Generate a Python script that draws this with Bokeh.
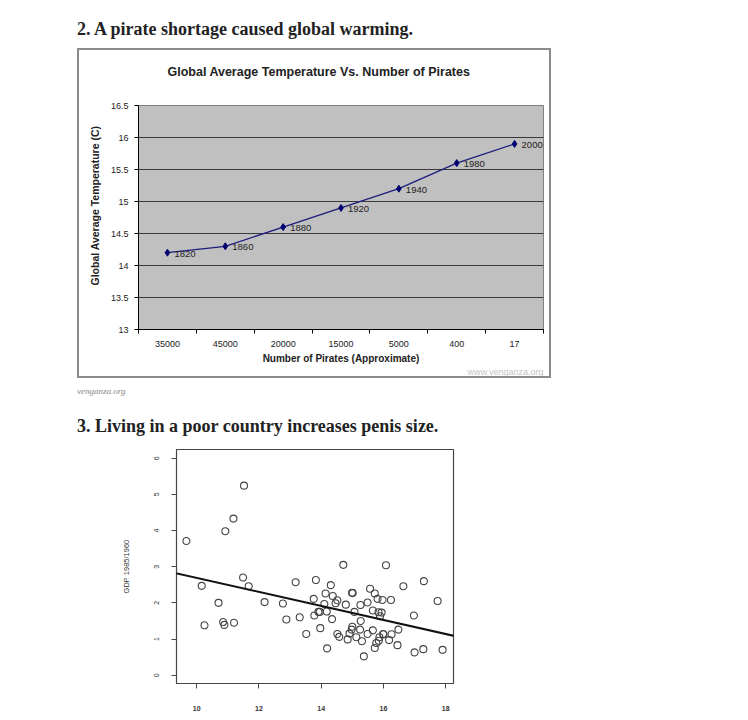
from bokeh.plotting import figure
from bokeh.models import Div, FixedTicker, Title, Slope, Range1d, ColumnDataSource
from bokeh.layouts import column
from bokeh.embed import file_html
from bokeh.resources import INLINE

# ---------------- data ----------------
HEADING_1 = "2. A pirate shortage caused global warming."
HEADING_2 = "3. Living in a poor country increases penis size."
CAPTION_1 = "venganza.org"
CHART1_TITLE = "Global Average Temperature Vs. Number of Pirates"
CHART1_XLABEL = "Number of Pirates (Approximate)"
CHART1_YLABEL = "Global Average Temperature  (C)"
WATERMARK = "www.venganza.org"

pirates = ["35000", "45000", "20000", "15000", "5000", "400", "17"]
temperature = [14.2, 14.3, 14.6, 14.9, 15.2, 15.6, 15.9]
years = ["1820", "1860", "1880", "1920", "1940", "1980", "2000"]
temp_ticks = [13, 13.5, 14, 14.5, 15, 15.5, 16, 16.5]

CHART2_YLABEL = "GDP 1985/1960"
size_x = [9.67, 11.52, 11.18, 10.92, 10.16, 10.70, 10.25, 10.85, 10.89, 11.20,
          11.49, 11.67, 12.18, 12.77, 12.88, 13.18, 13.31, 13.52, 13.76, 13.78,
          13.83, 13.91, 13.95, 13.97, 14.10, 14.14, 14.18, 14.19, 14.31, 14.35,
          14.37, 14.46, 14.52, 14.52, 14.58, 14.71, 14.79, 14.85, 14.91, 14.98,
          14.99, 15.01, 15.00, 15.07, 15.13, 15.26, 15.25, 15.27, 15.31, 15.37,
          15.49, 15.49, 15.57, 15.66, 15.66, 15.72, 15.72, 15.77, 15.81, 15.84,
          15.89, 15.87, 15.94, 15.97, 15.99, 16.00, 16.08, 16.18, 16.24, 16.26,
          16.45, 16.48, 16.64, 16.98, 17.00, 17.28, 17.30, 17.74, 17.90, 15.85]
gdp_y = [3.71, 5.24, 4.33, 3.98, 2.47, 2.00, 1.38, 1.47, 1.39, 1.45,
         2.70, 2.46, 2.02, 1.98, 1.54, 2.57, 1.60, 1.14, 2.11, 1.65,
         2.63, 1.75, 1.75, 1.30, 1.97, 2.26, 1.76, 0.74, 2.49, 1.55,
         2.19, 1.99, 2.07, 1.14, 1.06, 3.05, 1.95, 0.99, 1.15, 1.26,
         2.28, 2.27, 1.34, 1.75, 1.05, 1.94, 1.26, 1.50, 0.94, 0.52,
         2.01, 1.14, 2.39, 1.79, 1.24, 2.26, 0.75, 0.89, 2.11, 1.74,
         1.63, 1.05, 1.73, 2.08, 1.14, 1.13, 3.04, 0.97, 2.08, 1.13,
         0.83, 1.26, 2.46, 1.65, 0.63, 0.72, 2.60, 2.05, 0.70, 0.95]
size_ticks = [10, 12, 14, 16, 18]
gdp_ticks = [0, 1, 2, 3, 4, 5, 6]
REG_INTERCEPT = 4.63
REG_SLOPE = -0.194

SANS = "Liberation Sans"
SERIF = "Liberation Serif"
LEFT = 77
BORDER_LEFT = 59   # same left border for both plots (frames get aligned in a column)


def heading(txt, top):
    return Div(
        text=f'<div style="font-family:{SERIF};font-weight:bold;font-size:18px;'
             f'line-height:20px;color:#222;white-space:nowrap;">{txt}</div>',
        width=660, height=20, margin=(top, 0, 0, LEFT))


# ---------------- chart 1 ----------------
n = len(pirates)
xpos = [i + 0.5 for i in range(n)]
src1 = ColumnDataSource(dict(x=xpos, t=temperature, year=years))

p1 = figure(width=474, height=330,
            min_border_left=BORDER_LEFT, min_border_right=10, min_border_top=55, min_border_bottom=51,
            x_range=Range1d(0, n), y_range=Range1d(temp_ticks[0], temp_ticks[-1]),
            output_backend="svg", toolbar_location=None, margin=(9, 0, 0, LEFT))
p1.styles = {"border": "2px solid #8c8c8c"}
p1.background_fill_color = "#c0c0c0"
p1.border_fill_color = "white"
p1.outline_line_color = "#808080"

p1.xgrid.visible = False
p1.ygrid.ticker = FixedTicker(ticks=temp_ticks[1:-1])
p1.ygrid.grid_line_color = "#3a3a3a"
p1.ygrid.grid_line_width = 1

p1.yaxis.ticker = FixedTicker(ticks=temp_ticks)
p1.yaxis.major_label_overrides = {t: (str(int(t)) if t == int(t) else str(t)) for t in temp_ticks}
p1.yaxis.major_tick_out = 4
p1.yaxis.major_tick_in = 0
p1.yaxis.minor_tick_line_color = None
p1.yaxis.major_label_standoff = 6

p1.xaxis.ticker = FixedTicker(ticks=xpos, minor_ticks=list(range(n + 1)))
p1.xaxis.major_label_overrides = {x: lab for x, lab in zip(xpos, pirates)}
p1.xaxis.major_tick_line_color = None
p1.xaxis.major_tick_out = 0
p1.xaxis.major_tick_in = 0
p1.xaxis.minor_tick_out = 4
p1.xaxis.minor_tick_in = 0
p1.xaxis.minor_tick_line_color = "black"
p1.xaxis.major_label_standoff = 7
p1.xaxis.axis_label = CHART1_XLABEL
p1.xaxis.axis_label_standoff = 3
p1.xaxis.axis_label_text_font_size = "10px"

for ax in (p1.xaxis, p1.yaxis):
    ax.axis_line_color = "black"
    ax.major_label_text_font = SANS
    ax.major_label_text_font_size = "9px"
    ax.major_label_text_color = "#222"
    ax.axis_label_text_font = SANS
    ax.axis_label_text_font_style = "bold"
    ax.axis_label_text_color = "#222"

p1.title = None
# spacer (innermost), then chart title
p1.add_layout(Title(text=" ", text_font_size="1px", standoff=19), "above")
p1.add_layout(Title(text=CHART1_TITLE, align="left", offset=29, standoff=10,
                    text_font=SANS, text_font_size="12.5px", text_font_style="bold",
                    text_color="#222"), "above")
# y axis title (Excel places it a little above the frame centre)
p1.add_layout(Title(text=CHART1_YLABEL, align="left", offset=44, standoff=13,
                    text_font=SANS, text_font_size="10.5px", text_font_style="bold",
                    text_color="#222"), "left")
p1.add_layout(Title(text=WATERMARK, align="right", offset=0, standoff=0,
                    vertical_align="top",
                    text_font=SANS, text_font_size="9px", text_font_style="normal",
                    text_color="#c4c4c4"), "below")

p1.line("x", "t", source=src1, line_color="#1c1c7c", line_width=1.3)
p1.scatter("x", "t", source=src1, marker="diamond", size=7,
           fill_color="#000070", line_color="#000070")
p1.text("x", "t", text="year", source=src1, x_offset=7, y_offset=1,
        text_baseline="middle", text_align="left", text_font_size="9.5px",
        text_color="#222", text_font={"value": SANS})

caption = Div(
    text=f'<div style="font-family:{SERIF};font-style:italic;font-size:9px;'
         f'line-height:12px;color:#888;">{CAPTION_1}</div>',
    width=200, height=12, margin=(4, 0, 0, LEFT))

# ---------------- chart 2 ----------------
src2 = ColumnDataSource(dict(x=size_x, y=gdp_y))
p2 = figure(width=BORDER_LEFT + 277 + 10, height=275,
            min_border_left=BORDER_LEFT, min_border_right=10, min_border_top=10, min_border_bottom=31,
            x_range=Range1d(9.35, 18.25), y_range=Range1d(-0.23, 6.24),
            output_backend="svg", toolbar_location=None, margin=(3, 0, 0, 176 - BORDER_LEFT))
p2.grid.visible = False
p2.outline_line_color = "#444"
p2.outline_line_width = 1.2
p2.xaxis.ticker = FixedTicker(ticks=size_ticks, minor_ticks=[])
p2.yaxis.ticker = FixedTicker(ticks=gdp_ticks, minor_ticks=[])
p2.yaxis.major_label_orientation = "vertical"
p2.yaxis.axis_label = CHART2_YLABEL
p2.yaxis.axis_label_standoff = 21
for ax in (p2.xaxis, p2.yaxis):
    ax.axis_line_color = None
    ax.major_tick_line_color = "#444"
    ax.major_tick_out = 5
    ax.major_tick_in = 0
    ax.minor_tick_line_color = None
    ax.major_label_text_font = SANS
    ax.major_label_text_font_size = "7px"
    ax.major_label_text_color = "#333"
    ax.axis_label_text_font = SANS
    ax.axis_label_text_font_size = "7.5px"
    ax.axis_label_text_font_style = "normal"
    ax.axis_label_text_color = "#333"
p2.xaxis.major_label_text_font_style = "bold"
p2.xaxis.major_label_standoff = 17
p2.yaxis.major_label_standoff = 12

p2.add_layout(Slope(gradient=REG_SLOPE, y_intercept=REG_INTERCEPT,
                    line_color="#111", line_width=2))
p2.scatter("x", "y", source=src2, marker="circle", size=7,
           fill_color=None, line_color="#444", line_width=1.1)

layout = column(heading(HEADING_1, 19), p1, caption, heading(HEADING_2, 22), p2, spacing=0)

open("out.html", "w").write(file_html(layout, INLINE))
